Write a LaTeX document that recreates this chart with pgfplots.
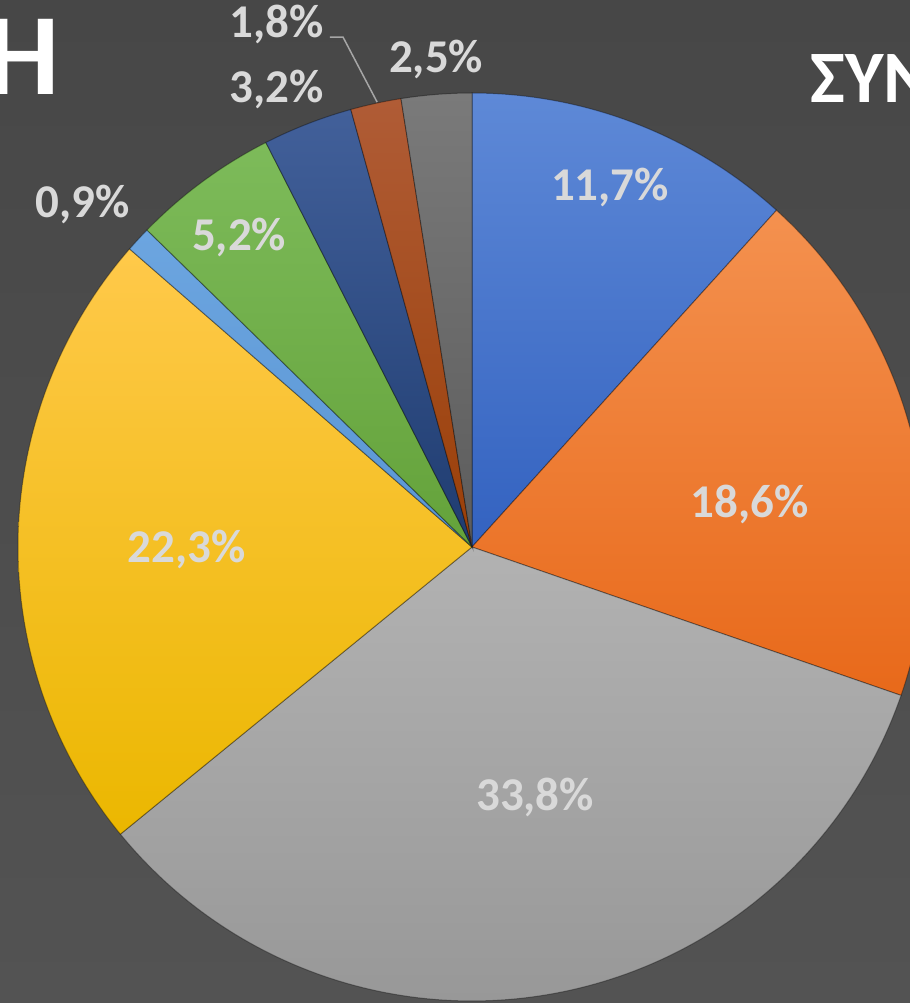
\documentclass[border=0pt]{standalone}
\usepackage{fontspec}
\setmainfont{Carlito}
\usepackage{pgfplots}
\pgfplotsset{compat=1.18}
\definecolor{bgtop}{HTML}{474747}
\definecolor{bgbot}{HTML}{535353}
\definecolor{lab}{HTML}{D9D9D9}
\definecolor{c1t}{HTML}{5E89D7}\definecolor{c1b}{HTML}{3362C0}
\definecolor{c2t}{HTML}{F4914F}\definecolor{c2b}{HTML}{E8691A}
\definecolor{c3t}{HTML}{B2B2B2}\definecolor{c3b}{HTML}{989898}
\definecolor{c4t}{HTML}{FFC94A}\definecolor{c4b}{HTML}{EBB700}
\definecolor{c5t}{HTML}{6CA5E0}\definecolor{c5b}{HTML}{5A96D3}
\definecolor{c6t}{HTML}{7DBB5A}\definecolor{c6b}{HTML}{64A23A}
\definecolor{c7t}{HTML}{42609A}\definecolor{c7b}{HTML}{1F3C70}
\definecolor{c8t}{HTML}{B05C36}\definecolor{c8b}{HTML}{9A3F08}
\definecolor{c9t}{HTML}{7A7A7A}\definecolor{c9b}{HTML}{5C5C5C}
\newcommand{\lbl}{\bfseries\fontsize{23.5}{28}\selectfont}
\begin{document}
\begin{tikzpicture}
\path[use as bounding box] (0pt,0pt) rectangle (455pt,501.5pt);
\clip (0pt,0pt) rectangle (455pt,501.5pt);
\fill[top color=bgtop,bottom color=bgbot] (0pt,0pt) rectangle (455pt,501.5pt);
\begin{axis}[at={(236pt,228pt)},anchor=center,scale only axis,width=454pt,height=454pt,
  xmin=-1,xmax=1,ymin=-1,ymax=1,hide axis,clip=false,
  slice/.style={draw=black,draw opacity=0.35,line width=0.5pt,samples=120,mark=none}]
% percentages: 11.7 18.6 33.8 22.3 0.9 5.2 3.2 1.8 2.5 (clockwise from 12 o'clock)
\addplot[slice,top color=c1t,bottom color=c1b,domain=47.88:90] ({cos(x)},{sin(x)}) -- (axis cs:0,0) -- cycle;
\addplot[slice,top color=c2t,bottom color=c2b,domain=-19.08:47.88] ({cos(x)},{sin(x)}) -- (axis cs:0,0) -- cycle;
\addplot[slice,top color=c3t,bottom color=c3b,domain=-140.76:-19.08] ({cos(x)},{sin(x)}) -- (axis cs:0,0) -- cycle;
\addplot[slice,top color=c4t,bottom color=c4b,domain=-221.04:-140.76] ({cos(x)},{sin(x)}) -- (axis cs:0,0) -- cycle;
\addplot[slice,top color=c5t,bottom color=c5b,domain=-224.28:-221.04] ({cos(x)},{sin(x)}) -- (axis cs:0,0) -- cycle;
\addplot[slice,top color=c6t,bottom color=c6b,domain=-243:-224.28] ({cos(x)},{sin(x)}) -- (axis cs:0,0) -- cycle;
\addplot[slice,top color=c7t,bottom color=c7b,domain=-254.52:-243] ({cos(x)},{sin(x)}) -- (axis cs:0,0) -- cycle;
\addplot[slice,top color=c8t,bottom color=c8b,domain=-261:-254.52] ({cos(x)},{sin(x)}) -- (axis cs:0,0) -- cycle;
\addplot[slice,top color=c9t,bottom color=c9b,domain=-270:-261] ({cos(x)},{sin(x)}) -- (axis cs:0,0) -- cycle;
\draw[color=black!35,line width=0.75pt] (axis cs:-0.313,1.123) -- (axis cs:-0.284,1.123) -- (axis cs:-0.209,0.980);
\begin{scope}[every node/.style={text=lab,anchor=base,inner sep=0pt,font=\lbl}]
\node at (axis cs:0.304,0.764) {11,7\%};
\node at (axis cs:0.612,0.066) {18,6\%};
\node at (axis cs:0.139,-0.581) {33,8\%};
\node at (axis cs:-0.628,-0.035) {22,3\%};
\node at (axis cs:-0.857,0.725) {0,9\%};
\node at (axis cs:-0.513,0.654) {5,2\%};
\node at (axis cs:-0.430,0.978) {3,2\%};
\node at (axis cs:-0.430,1.123) {1,8\%};
\node at (axis cs:-0.079,1.046) {2,5\%};
\end{scope}
\end{axis}
\node[anchor=base east,inner sep=0pt,text=white,font=\bfseries\fontsize{58}{60}\selectfont] at (30pt,454pt) {H};
\node[anchor=base west,inner sep=0pt,text=white,font=\bfseries\fontsize{37}{40}\selectfont] at (405pt,450pt) {ΣΥΝ};
\end{tikzpicture}
\end{document}
